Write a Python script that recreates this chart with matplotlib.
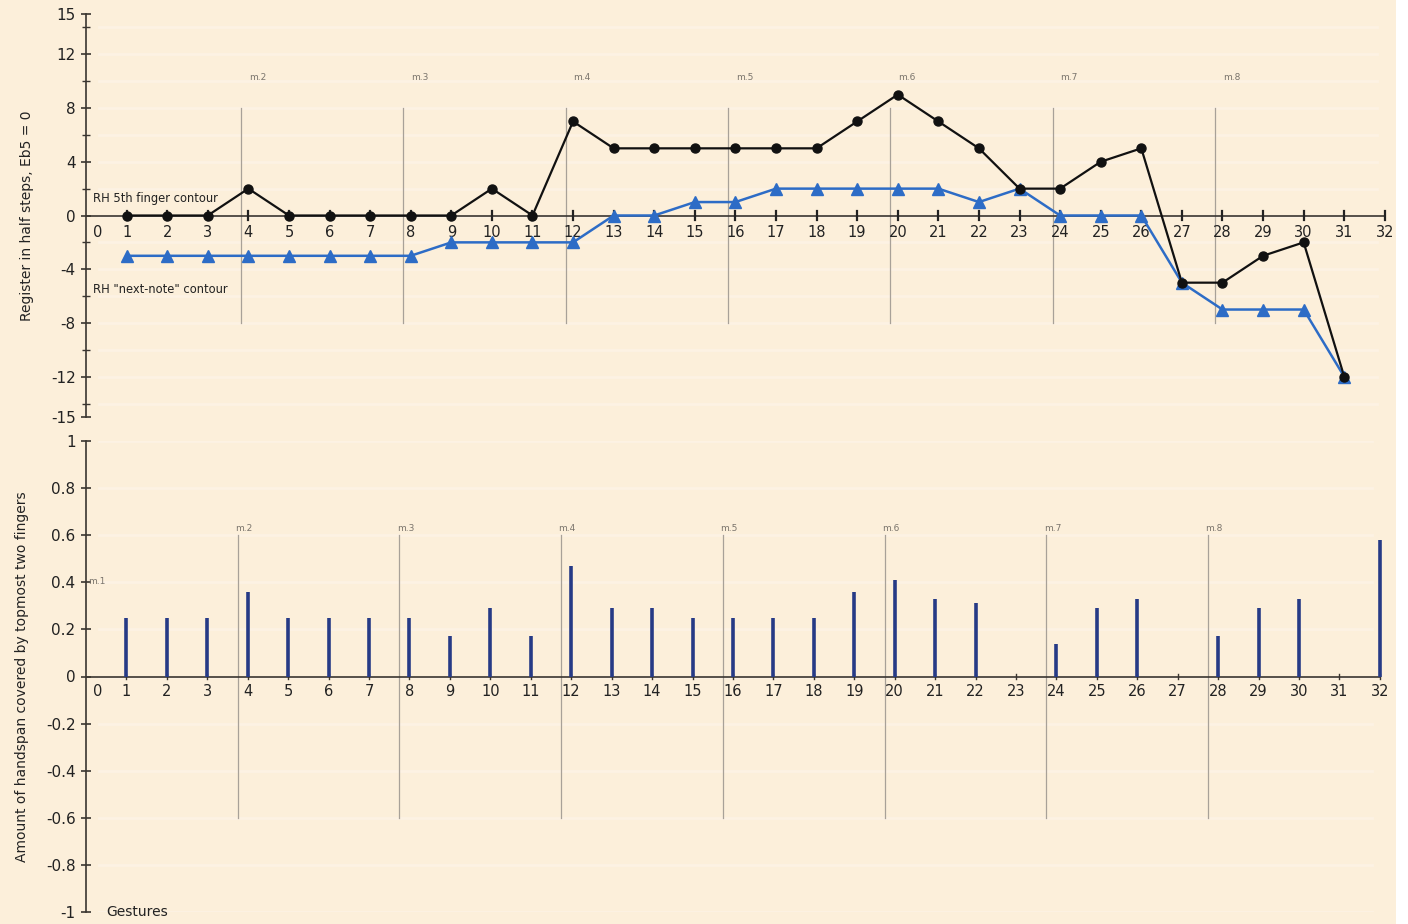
import numpy as np
import matplotlib
matplotlib.use("Agg")
import matplotlib.pyplot as plt
from matplotlib.patches import Rectangle

# gestures 1..31 (register contour), 1..32 (handspan)
gestures = list(range(1, 32))
fifth_finger = [0, 0, 0, 2, 0, 0, 0, 0, 0, 2, 0, 7, 5, 5, 5, 5, 5, 5, 7, 9,
                7, 5, 2, 2, 4, 5, -5, -5, -3, -2, -12]
next_note = [-3, -3, -3, -3, -3, -3, -3, -3, -2, -2, -2, -2, 0, 0, 1, 1, 2, 2, 2, 2,
             2, 1, 2, 0, 0, 0, -5, -7, -7, -7, -12]

span_gestures = list(range(1, 33))
handspan = [0.25, 0.25, 0.25, 0.36, 0.25, 0.25, 0.25, 0.25, 0.17, 0.29, 0.17, 0.47,
            0.29, 0.29, 0.25, 0.25, 0.25, 0.25, 0.36, 0.41, 0.33, 0.31, 0.0, 0.14,
            0.29, 0.33, 0.0, 0.17, 0.29, 0.33, 0.0, 0.58]

measures = ["m.2", "m.3", "m.4", "m.5", "m.6", "m.7", "m.8"]
measure_top = [3.82, 7.82, 11.82, 15.82, 19.82, 23.82, 27.82]
measure_bot = [3.75, 7.75, 11.75, 15.75, 19.75, 23.75, 27.75]

bg = "#fcefda"
stripe = "#fdf2e3"
W, H = 1408, 924

fig = plt.figure(figsize=(W / 100, H / 100), dpi=100)
fig.patch.set_facecolor(bg)
fig.patches.append(Rectangle((1396 / W, 0), 1 - 1396 / W, 1, transform=fig.transFigure,
                             facecolor="white", edgecolor="none", zorder=0))

def px_axes(x0, y0, x1, y1):
    return fig.add_axes([x0 / W, 1 - y1 / H, (x1 - x0) / W, (y1 - y0) / H])

def style_axes(ax):
    ax.set_facecolor("none")
    for s in ["top", "right", "bottom"]:
        ax.spines[s].set_visible(False)
    ax.spines["left"].set_color("#3a3530")
    ax.spines["left"].set_linewidth(1.2)
    ax.tick_params(axis="y", direction="inout", length=7, width=1.2, colors="#3a3530",
                   labelsize=11, labelcolor="#222222", pad=4)
    ax.tick_params(axis="x", length=0, labelsize=10.5, labelcolor="#222222")
    ax.set_xticks([])

# ---------- top: register contour ----------
ax1 = px_axes(86, 14, 1397, 417)
style_axes(ax1)
ax1.set_xlim(0, 32.3)
ax1.set_ylim(-15, 15)
ax1.set_yticks([15, 12, 8, 4, 0, -4, -8, -12, -15])
ax1.set_yticklabels(["15", "12", "8", "4", "0", "-4", "-8", "-12", "-15"])
ax1.set_yticks(np.arange(-14, 15, 2), minor=True)
ax1.tick_params(axis="y", which="minor", direction="inout", length=6, width=1.0, colors="#3a3530")
for v in np.arange(-14, 15, 2):
    ax1.axhline(v, xmin=0.01, xmax=0.985, color=stripe, lw=2, zorder=0)
ax1.plot([0, 32], [0, 0], color="#3a3530", lw=1.2, zorder=1)
for g in range(1, 33):
    ax1.plot([g, g], [-0.35, 0.35], color="#222222", lw=1.6, zorder=1)
ax1.text(0.3, -0.7, "0", ha="center", va="top", fontsize=10.5, color="#222222")
for g in range(1, 33):
    ax1.text(g, -0.7, str(g), ha="center", va="top", fontsize=10.5, color="#222222")
for m, x in zip(measures, measure_top):
    ax1.plot([x, x], [-8, 8], color="#a8a198", lw=0.9, zorder=0.5)
    ax1.text(x + 0.4, 10.3, m, ha="center", va="center", fontsize=6.5, color="#7a746c")
ax1.plot(gestures, next_note, color="#2d6cc6", lw=1.8, marker="^", markersize=8.5,
         markerfacecolor="#2d6cc6", markeredgecolor="#2d6cc6", zorder=3)
ax1.plot(gestures, fifth_finger, color="#111111", lw=1.6, marker="o", markersize=6.5,
         zorder=4)
ax1.text(0.17, 1.3, "RH 5th finger contour", fontsize=8.3, color="#222222", va="center")
ax1.text(0.17, -5.5, "RH \"next-note\" contour", fontsize=8.3, color="#222222", va="center")
ax1.set_ylabel("Register in half steps, Eb5 = 0", fontsize=10, color="#222222", labelpad=12)

# ---------- bottom: handspan ----------
ax2 = px_axes(86, 441, 1392, 912)
style_axes(ax2)
ax2.set_xlim(0, 32.3)
ax2.set_ylim(-1, 1)
yt = [1, 0.8, 0.6, 0.4, 0.2, 0, -0.2, -0.4, -0.6, -0.8, -1]
ax2.set_yticks(yt)
ax2.set_yticklabels(["1", "0.8", "0.6", "0.4", "0.2", "0", "-0.2", "-0.4",
                     "-0.6", "-0.8", "-1"])
for v in yt:
    ax2.axhline(v, xmin=0.01, xmax=0.985, color=stripe, lw=2, zorder=0)
ax2.plot([0, 32], [0, 0], color="#3a3530", lw=1.2, zorder=1)
for g in range(1, 33):
    ax2.plot([g, g], [-0.012, 0.012], color="#3a3530", lw=1.0, zorder=1)
ax2.text(0.3, -0.03, "0", ha="center", va="top", fontsize=10.5, color="#222222")
for g in range(1, 33):
    ax2.text(g, -0.03, str(g), ha="center", va="top", fontsize=10.5, color="#222222")
for m, x in zip(measures, measure_bot):
    ax2.plot([x, x], [-0.6, 0.6], color="#a8a198", lw=0.9, zorder=0.5)
    ax2.text(x + 0.15, 0.63, m, ha="center", va="center", fontsize=6.5, color="#7a746c")
ax2.text(0.05, 0.405, "m.1", ha="left", va="center", fontsize=6.5, color="#7a746c")
ax2.vlines(span_gestures, 0, handspan, color="#263a86", lw=2.6, zorder=3)
ax2.text(0.5, -1.0, "Gestures", ha="left", va="center", fontsize=10, color="#222222")
ax2.set_ylabel("Amount of handspan covered by topmost two fingers", fontsize=10,
               color="#222222", labelpad=12)

fig.savefig("out.png", dpi=100, facecolor=fig.get_facecolor())
